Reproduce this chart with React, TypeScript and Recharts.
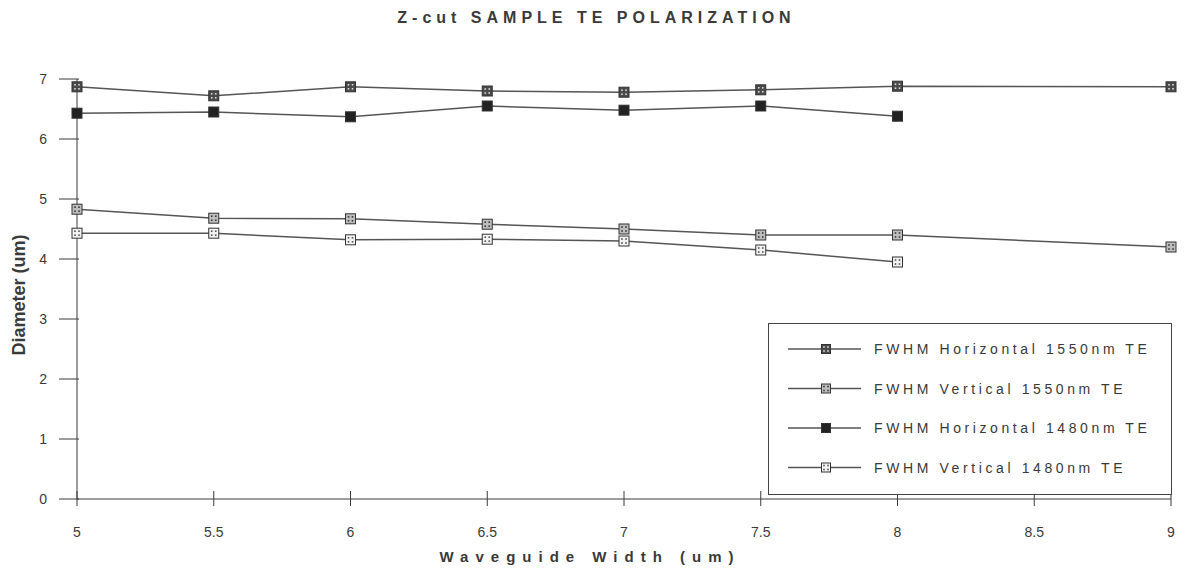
import { LineChart, Line, XAxis, YAxis, Label } from 'recharts';

const widths = [5, 5.5, 6, 6.5, 7, 7.5, 8, 9];
const horiz1550 = [6.87, 6.72, 6.87, 6.8, 6.78, 6.82, 6.88, 6.87];
const vert1550 = [4.83, 4.68, 4.67, 4.58, 4.5, 4.4, 4.4, 4.2];
const horiz1480 = [6.43, 6.45, 6.37, 6.55, 6.48, 6.55, 6.38, null];
const vert1480 = [4.43, 4.43, 4.32, 4.33, 4.3, 4.15, 3.95, null];

const xTicks = [5, 5.5, 6, 6.5, 7, 7.5, 8, 8.5, 9];
const yTicks = [0, 1, 2, 3, 4, 5, 6, 7];

const seriesNames = [
  'FWHM Horizontal 1550nm TE',
  'FWHM Vertical 1550nm TE',
  'FWHM Horizontal 1480nm TE',
  'FWHM Vertical 1480nm TE',
];

const data = widths.map((w, i) => ({
  w,
  h1550: horiz1550[i],
  v1550: vert1550[i],
  h1480: horiz1480[i],
  v1480: vert1480[i],
}));

const FONT = '"Liberation Sans", Arial, sans-serif';
const INK = '#3a3a3a';

// marker looks: fill colour + colour of the little dot pattern
const markerStyles = [
  { fill: '#4a4a4a', spot: '#d8d8d8' },
  { fill: '#bdbdbd', spot: '#3a3a3a' },
  { fill: '#222', spot: '#222' },
  { fill: '#f2f2f2', spot: '#555' },
];

function Marker({ cx, cy, style, size = 10 }: any) {
  if (cx == null || cy == null) return null;
  const h = size / 2;
  const s = 1.6;
  return (
    <g>
      <rect x={cx - h} y={cy - h} width={size} height={size} fill={style.fill} stroke="#333" strokeWidth={1} />
      <rect x={cx - 2.8} y={cy - 2.8} width={s} height={s} fill={style.spot} />
      <rect x={cx + 1.2} y={cy - 2.8} width={s} height={s} fill={style.spot} />
      <rect x={cx - 2.8} y={cy + 1.2} width={s} height={s} fill={style.spot} />
      <rect x={cx + 1.2} y={cy + 1.2} width={s} height={s} fill={style.spot} />
    </g>
  );
}

const makeDot = (idx: number) => (props: any) => (
  <Marker key={`${idx}-${props.index}`} cx={props.cx} cy={props.cy} style={markerStyles[idx]} />
);

function XTick({ x, y, payload }: any) {
  return (
    <g>
      <line x1={x} x2={x} y1={y - 16} y2={y - 1} stroke={INK} strokeWidth={1} />
      <text x={x} y={y + 30} textAnchor="middle" fontSize={14} fill={INK} fontFamily={FONT}>
        {payload.value}
      </text>
    </g>
  );
}

function YTick({ x, y, payload }: any) {
  return (
    <g>
      <line x1={x - 10} x2={x + 10} y1={y} y2={y} stroke={INK} strokeWidth={1} />
      <text x={x - 22} y={y + 5} textAnchor="end" fontSize={14} fill={INK} fontFamily={FONT}>
        {payload.value}
      </text>
    </g>
  );
}

function LegendBox() {
  return (
    <div
      style={{
        position: 'absolute',
        left: 768,
        top: 323,
        width: 404,
        height: 172,
        border: '1px solid #444',
        background: '#fff',
        boxSizing: 'border-box',
      }}
    >
      <svg width={402} height={170} style={{ display: 'block' }}>
        {seriesNames.map((name, i) => {
          const y = 25 + i * 39.5;
          return (
            <g key={name}>
              <line x1={19} x2={92} y1={y} y2={y} stroke="#555" strokeWidth={1.5} />
              <Marker cx={57} cy={y} style={markerStyles[i]} size={9} />
              <text x={105} y={y + 5} fontSize={14} fill={INK} fontFamily={FONT} letterSpacing={3.6}>
                {name}
              </text>
            </g>
          );
        })}
      </svg>
    </div>
  );
}

export default function App() {
  return (
    <div style={{ position: 'absolute', left: 0, top: 0, width: 1185, height: 577, background: '#fff' }}>
      <div
        style={{
          position: 'absolute',
          top: 9,
          left: 0,
          width: 1185,
          textAlign: 'center',
          fontFamily: FONT,
          fontWeight: 'bold',
          fontSize: 16,
          letterSpacing: 5,
          color: INK,
          paddingLeft: 8,
          boxSizing: 'border-box',
        }}
      >
        Z-cut SAMPLE TE POLARIZATION
      </div>
      <LineChart width={1185} height={577} data={data} margin={{ top: 79, right: 14, left: 37, bottom: 38 }}>
        <XAxis
          dataKey="w"
          type="number"
          domain={[5, 9]}
          ticks={xTicks}
          stroke={INK}
          tickLine={false}
          tick={<XTick />}
          height={40}
        >
          <Label
            value="Waveguide Width (um)"
            position="insideBottom"
            offset={-23}
            dx={-34}
            style={{ fontFamily: FONT, fontWeight: 'bold', fontSize: 15, letterSpacing: 7, fill: INK }}
          />
        </XAxis>
        <YAxis
          type="number"
          domain={[0, 7]}
          ticks={yTicks}
          stroke={INK}
          tickLine={false}
          tick={<YTick />}
          width={40}
        >
          <Label
            value="Diameter (um)"
            angle={-90}
            position="insideLeft"
            offset={-18}
            dy={6}
            style={{
              fontFamily: '"Liberation Sans Narrow", "Liberation Sans", Arial, sans-serif',
              fontWeight: 'bold',
              fontSize: 18,
              fill: INK,
              textAnchor: 'middle',
            }}
          />
        </YAxis>
        <Line dataKey="h1550" stroke="#555" strokeWidth={1.5} dot={makeDot(0)} activeDot={false} isAnimationActive={false} />
        <Line dataKey="v1550" stroke="#555" strokeWidth={1.5} dot={makeDot(1)} activeDot={false} isAnimationActive={false} />
        <Line dataKey="h1480" stroke="#555" strokeWidth={1.5} dot={makeDot(2)} activeDot={false} isAnimationActive={false} />
        <Line dataKey="v1480" stroke="#555" strokeWidth={1.5} dot={makeDot(3)} activeDot={false} isAnimationActive={false} />
      </LineChart>
      <LegendBox />
    </div>
  );
}
